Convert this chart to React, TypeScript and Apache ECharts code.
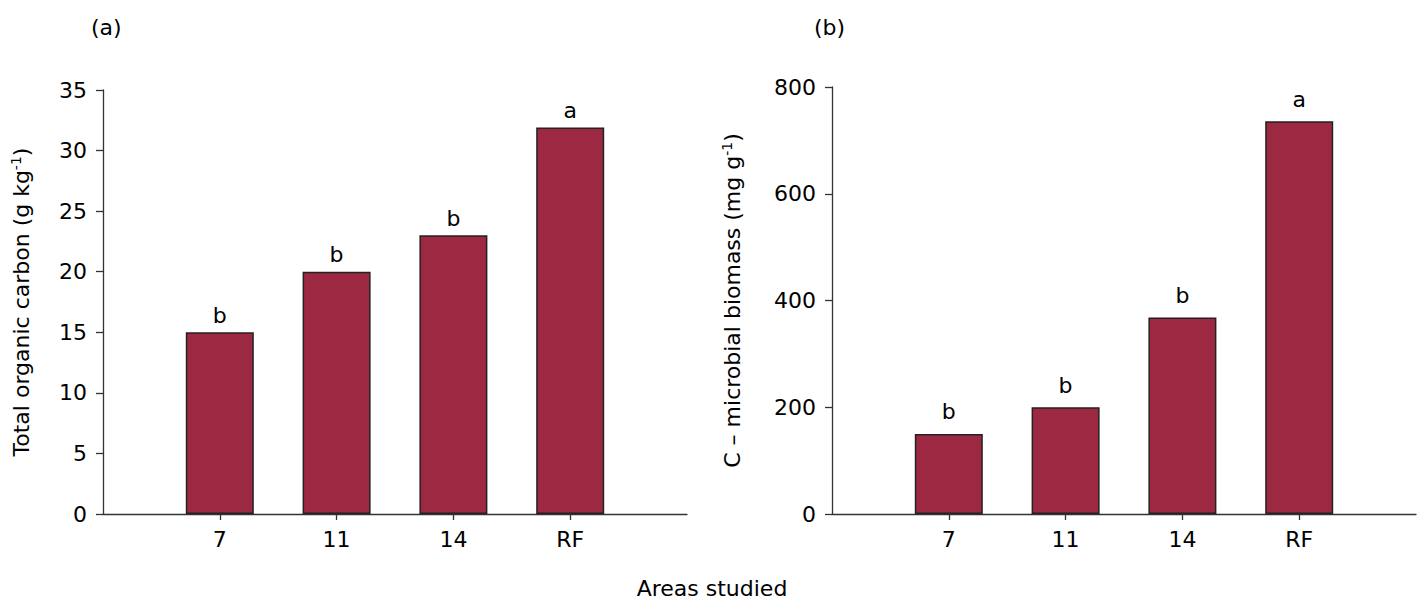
import React, { useEffect, useRef } from "react";
import * as echarts from "echarts";

const areas = ["7", "11", "14", "RF"];
const totalOrganicCarbon = [15, 20, 23, 31.9];
const carbonLetters = ["b", "b", "b", "a"];
const microbialBiomass = [150, 200, 368, 736];
const biomassLetters = ["b", "b", "b", "a"];

const FONT = "DejaVu Sans";
const FS = 22;
const BAR = "#9c2842";
const AXIS = "#333333";

function padded<T>(arr: T[], fill: any) {
  return [fill, ...arr, fill];
}

export default function App() {
  const ref = useRef<HTMLDivElement>(null);
  useEffect(() => {
    if (!ref.current) return;
    const chart = echarts.init(ref.current, null, { renderer: "svg" });
    const cats = padded(areas, "");
    const mkX = (gridIndex: number) => ({
      type: "category",
      gridIndex,
      data: cats,
      boundaryGap: false,
      axisLine: { lineStyle: { color: AXIS, width: 1.3 } },
      axisTick: {
        show: true,
        length: 6,
        lineStyle: { color: AXIS, width: 1.3 },
        interval: (i: number) => i > 0 && i < cats.length - 1,
      },
      axisLabel: {
        color: "#000",
        fontFamily: FONT,
        fontSize: FS,
        margin: 14,
        interval: 0,
      },
      splitLine: { show: false },
    });
    const mkY = (gridIndex: number, max: number, interval: number, name: string, nameGap: number) => ({
      type: "value",
      gridIndex,
      min: 0,
      max,
      interval,
      name,
      nameLocation: "middle",
      nameGap,
      nameRotate: 90,
      nameTextStyle: {
        color: "#000",
        fontFamily: FONT,
        fontSize: FS,
        rich: {
          t: { color: "#000", fontFamily: FONT, fontSize: FS },
          s: { color: "#000", fontFamily: FONT, fontSize: 14, verticalAlign: "top", padding: [0, 0, 10, 0] },
        },
      },
      axisLine: { show: true, lineStyle: { color: AXIS, width: 1.3 } },
      axisTick: { show: true, length: 7, lineStyle: { color: AXIS, width: 1.3 } },
      axisLabel: { color: "#000", fontFamily: FONT, fontSize: FS, margin: 16 },
      splitLine: { show: false },
    });
    const mkSeries = (idx: number, values: number[], letters: string[], distance: number) => ({
      type: "bar",
      xAxisIndex: idx,
      yAxisIndex: idx,
      data: padded(values, "-"),
      barWidth: 68,
      itemStyle: { color: BAR, borderColor: "#222", borderWidth: 1.5 },
      label: {
        show: true,
        position: "top",
        distance,
        color: "#000",
        fontFamily: FONT,
        fontSize: FS,
        formatter: (p: any) => letters[p.dataIndex - 1] ?? "",
      },
    });
    chart.setOption({
      animation: false,
      textStyle: { fontFamily: FONT },
      grid: [
        { left: 103, top: 90, width: 584, height: 424 },
        { left: 832, top: 87, width: 584, height: 427 },
      ],
      xAxis: [mkX(0), mkX(1)],
      yAxis: [
        mkY(0, 35, 5, "{t|Total organic carbon (g kg}{s|-1}{t|)}", 70),
        mkY(1, 800, 200, "{t|C – microbial biomass (mg g}{s|-1}{t|)}", 88),
      ],
      series: [
        mkSeries(0, totalOrganicCarbon, carbonLetters, 6),
        mkSeries(1, microbialBiomass, biomassLetters, 11),
      ],
      graphic: [
        { type: "text", left: 91, top: 16, style: { text: "(a)", font: `${FS}px '${FONT}'`, fill: "#000" } },
        { type: "text", left: 814, top: 16, style: { text: "(b)", font: `${FS}px '${FONT}'`, fill: "#000" } },
        {
          type: "text",
          x: 712,
          y: 588,
          style: { text: "Areas studied", font: `${FS}px '${FONT}'`, fill: "#000", textAlign: "center", textVerticalAlign: "middle" },
        },
      ],
    });
    return () => chart.dispose();
  }, []);
  return (
    <div
      ref={ref}
      style={{ position: "fixed", left: 0, top: 0, width: 1422, height: 599, background: "#fff" }}
    />
  );
}
